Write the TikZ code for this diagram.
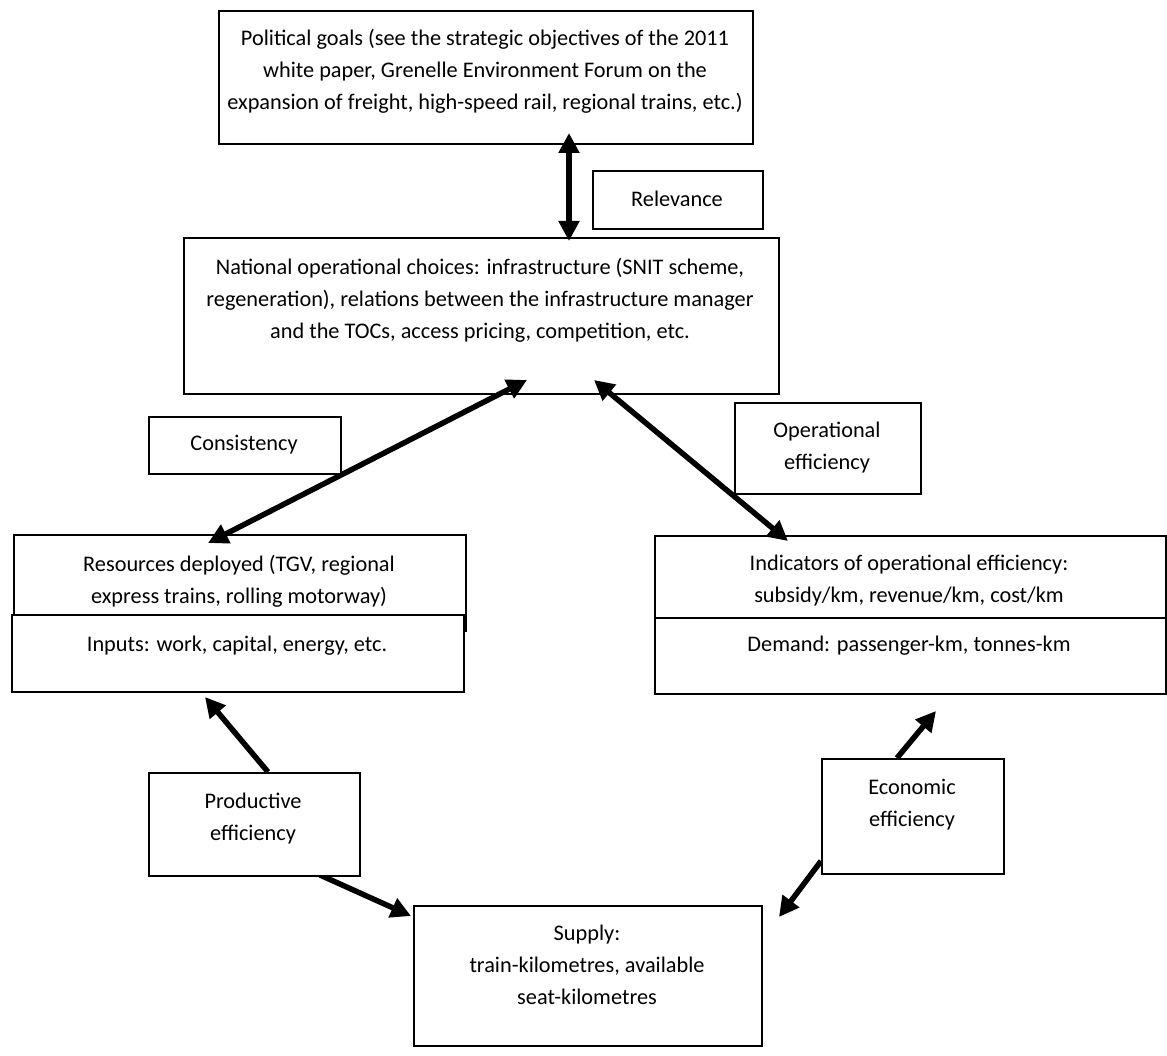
\documentclass[tikz,border=0pt]{standalone}
\usepackage{fontspec}
\setmainfont{Carlito}
\usetikzlibrary{arrows.meta}
\begin{document}
\begin{tikzpicture}[x=1pt,y=-1pt,
  box/.style={draw=black, line width=1.8pt, fill=white, inner sep=0pt, anchor=north west},
  txt/.style={align=center, inner sep=0pt, font=\fontsize{22.3}{32}\selectfont},
  bigarrow/.style={line width=5.5pt, -{Triangle[length=20pt,width=20pt]}},
  dblarrow/.style={line width=5.5pt, {Triangle[length=20pt,width=20pt]}-{Triangle[length=20pt,width=20pt]}}]
\useasboundingbox (0,0) rectangle (1167,1056);

% large boxes
\node[box, minimum width=534, minimum height=133] (goals) at (218,10) {};
\node[box, minimum width=595, minimum height=156] (nat) at (183,237) {};
\node[box, minimum width=452, minimum height=96] (res) at (13,534) {};
\node[box, minimum width=452, minimum height=77] (inp) at (11,614) {};
\node[box, minimum width=511, minimum height=82] (ind) at (654,535) {};
\node[box, minimum width=511, minimum height=76] (dem) at (654,617) {};
\node[box, minimum width=348, minimum height=140] (sup) at (413,905) {};

% arrow end points
\coordinate (relA) at (569,133);
\coordinate (relB) at (569,241);
\coordinate (conA) at (527,380);
\coordinate (conB) at (208,543);
\coordinate (opA) at (594,380);
\coordinate (opB) at (788,541);
\coordinate (prodT) at (205,697);
\coordinate (prodS) at (268,772);
\coordinate (prodE) at (320,875);
\coordinate (prodD) at (411,916);
\coordinate (ecoS) at (897,758);
\coordinate (ecoT) at (936,711);
\coordinate (ecoE) at (821,861);
\coordinate (ecoD) at (779,917);

% connectors
\draw[dblarrow] (relA) -- (relB);
\draw[dblarrow] (conA) -- (conB);
\draw[dblarrow] (opA) -- (opB);
\draw[bigarrow] (prodS) -- (prodT);
\draw[bigarrow] (prodE) -- (prodD);
\draw[bigarrow] (ecoS) -- (ecoT);
\draw[bigarrow] (ecoE) -- (ecoD);

% label boxes
\node[box, minimum width=170, minimum height=58] (rel) at (592,170) {};
\node[box, minimum width=192, minimum height=57] (con) at (148,416) {};
\node[box, minimum width=186, minimum height=91] (op) at (734,402) {};
\node[box, minimum width=211, minimum height=103] (prod) at (148,772) {};
\node[box, minimum width=182, minimum height=115] (eco) at (821,758) {};

% texts
\node[txt] (goalsT) at (485,71) {Political goals (see the strategic objectives of the 2011\\white paper, Grenelle Environment Forum on the\\expansion of freight, high-speed rail, regional trains, etc.)};
\node[txt] (relT) at (677,199) {Relevance};
\node[txt] (natT) at (480,300) {National operational choices: infrastructure (SNIT scheme,\\regeneration), relations between the infrastructure manager\\and the TOCs, access pricing, competition, etc.};
\node[txt] (conT) at (244,445) {Consistency};
\node[txt] (opT) at (827,448) {Operational\\efficiency};
\node[txt] (resT) at (239,581) {Resources deployed (TGV, regional\\express trains, rolling motorway)};
\node[txt] (inpT) at (237,646) {Inputs: work, capital, energy, etc.};
\node[txt] (indT) at (909,581) {Indicators of operational efficiency:\\subsidy/km, revenue/km, cost/km};
\node[txt] (demT) at (909,646) {Demand: passenger-km, tonnes-km};
\node[txt] (prodT2) at (253,819) {Productive\\efficiency};
\node[txt] (ecoT2) at (912,805) {Economic\\efficiency};
\node[txt] (supT) at (587,965) {Supply:\\train-kilometres, available\\seat-kilometres};
\end{tikzpicture}
\end{document}
